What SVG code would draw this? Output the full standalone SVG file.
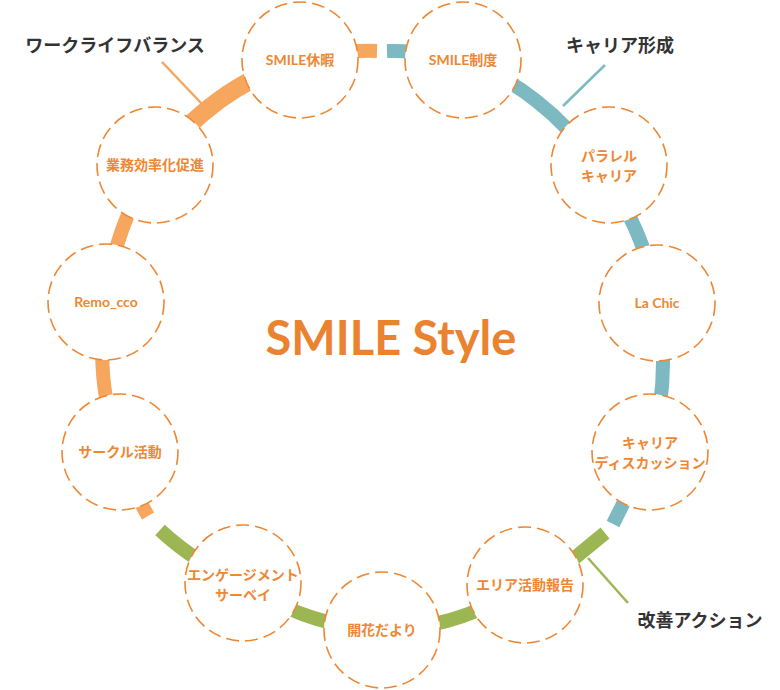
<svg xmlns="http://www.w3.org/2000/svg" width="780" height="690" viewBox="0 0 780 690">
<style>
.o{fill:none;stroke:#F7A65E;stroke-width:14}
.t{fill:none;stroke:#7DB9C1;stroke-width:14}
.g{fill:none;stroke:#9CB654;stroke-width:14}
.n circle{fill:#fff;stroke:#EE8733;stroke-width:1.6;stroke-dasharray:13 6}
.n text{font-family:Lato,"Noto Sans CJK JP",sans-serif;font-weight:bold;font-size:14px;fill:#EE8733;text-anchor:middle}
.c{font-family:Lato,"Noto Sans CJK JP",sans-serif;font-weight:bold;font-size:18px;fill:#333;text-anchor:middle}
</style>
<rect width="780" height="690" fill="#fff"/>
<g id="connectors">
<path class="o" d="M300,60 A276 290 0 0 1 377,51"/>
<path class="t" d="M387,51 A276 290 0 0 1 463,60 A276 290 0 0 1 595,163 A276 290 0 0 1 657,303 A276 290 0 0 1 650,450"/>
<path class="t" d="M650,450 L613,524"/>
<path class="g" d="M605,533 L560,570 A276 290 0 0 1 525,585 A276 290 0 0 1 382,630 A276 290 0 0 1 243,583 A276 290 0 0 1 160,530"/>
<path class="o" d="M148,516 A276 290 0 0 1 120,452 A276 290 0 0 1 106,302 A276 290 0 0 1 155,165"/>
<path class="o" style="stroke-width:18" d="M155,165 A276 290 0 0 1 300,60"/>
<line x1="162" y1="62" x2="202" y2="104" stroke="#F7A65E" stroke-width="2.5"/>
<line x1="605" y1="65" x2="563" y2="106" stroke="#7DB9C1" stroke-width="2.5"/>
<line x1="628" y1="603" x2="588" y2="558" stroke="#9CB654" stroke-width="2.5"/>
</g>
<g id="n1" class="n"><circle cx="300" cy="60" r="58"/><text x="300" y="65">SMILE休暇</text></g>
<g id="n2" class="n"><circle cx="463" cy="60" r="58"/><text x="463" y="65">SMILE制度</text></g>
<g id="n3" class="n"><circle cx="609" cy="165" r="58"/><text x="609" y="161">パラレル</text><text x="609" y="181">キャリア</text></g>
<g id="n4" class="n"><circle cx="657" cy="303" r="58"/><text x="657" y="308">La Chic</text></g>
<g id="n5" class="n"><circle cx="650" cy="452" r="58"/><text x="650" y="448">キャリア</text><text x="650" y="468">ディスカッション</text></g>
<g id="n6" class="n"><circle cx="525" cy="585" r="58"/><text x="525" y="590">エリア活動報告</text></g>
<g id="n7" class="n"><circle cx="382" cy="630" r="58"/><text x="382" y="635">開花だより</text></g>
<g id="n8" class="n"><circle cx="243" cy="583" r="58"/><text x="243" y="580">エンゲージメント</text><text x="243" y="600">サーベイ</text></g>
<g id="n9" class="n"><circle cx="120" cy="452" r="58"/><text x="120" y="457">サークル活動</text></g>
<g id="n10" class="n"><circle cx="106" cy="302" r="58"/><text x="106" y="307">Remo_cco</text></g>
<g id="n11" class="n"><circle cx="155" cy="165" r="58"/><text x="155" y="170">業務効率化促進</text></g>
<text x="391" y="355" style="font-family:Lato,sans-serif;font-weight:bold;font-size:47px;fill:#EA822F;text-anchor:middle">SMILE Style</text>
<text class="c" x="115" y="52">ワークライフバランス</text>
<text class="c" x="620" y="52">キャリア形成</text>
<text class="c" x="700" y="627">改善アクション</text>
</svg>
